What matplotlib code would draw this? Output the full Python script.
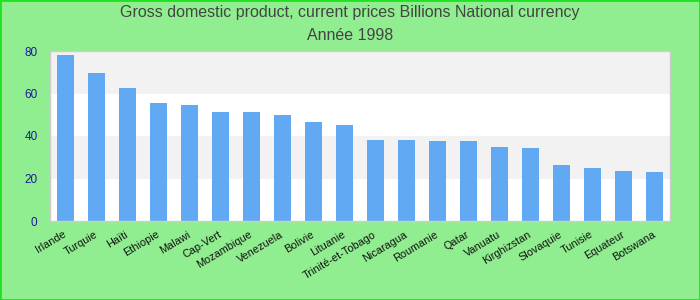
import matplotlib
matplotlib.use('Agg')
import matplotlib.pyplot as plt
from matplotlib.patches import Rectangle
from matplotlib.transforms import ScaledTranslation

plt.rcParams['font.family'] = ['Liberation Sans', 'DejaVu Sans']

countries = ['Irlande', 'Turquie', 'Haïti', 'Ethiopie', 'Malawi', 'Cap-Vert',
             'Mozambique', 'Venezuela', 'Bolivie', 'Lituanie',
             'Trinité-et-Tobago', 'Nicaragua', 'Roumanie', 'Qatar',
             'Vanuatu', 'Kirghizstan', 'Slovaquie', 'Tunisie', 'Equateur',
             'Botswana']
gdp = [78.3, 69.8, 62.8, 55.3, 54.4, 51.5, 51.1, 50.1, 46.8, 45.0,
       37.9, 37.9, 37.5, 37.5, 34.7, 34.2, 26.2, 24.8, 23.4, 23.0]
y_ticks = [0, 20, 40, 60, 80]
title_lines = ['Gross domestic product, current prices Billions National currency',
               'Année 1998']

bg = '#90EE90'
fig = plt.figure(figsize=(7, 3), dpi=100, facecolor=bg)
ax = fig.add_axes([50 / 700, 79 / 300, 620 / 700, 170 / 300])

# alternating bands behind the bars
for lo, hi in zip(y_ticks[:-1], y_ticks[1:]):
    ax.axhspan(lo, hi, color='white' if (lo // 20) % 2 == 0 else '#f2f2f2',
               zorder=0, lw=0)

x = range(len(countries))
ax.bar(x, gdp, width=0.55, color='#62a9f4', zorder=2)

ax.set_xlim(-0.5, len(countries) - 0.5)
ax.set_ylim(0, 80)
ax.set_yticks(y_ticks)
ax.set_yticklabels([str(v) for v in y_ticks], color='#1a1a9a', fontsize=8.5)
ax.set_xticks(list(x))
ax.set_xticklabels(countries, rotation=31, ha='right', va='center',
                   rotation_mode='anchor', fontsize=7.8, color='#111111')
shift = ScaledTranslation(-6 / 100, -3 / 100, fig.dpi_scale_trans)
for lab in ax.get_xticklabels():
    lab.set_transform(lab.get_transform() + shift)
ax.tick_params(axis='y', length=0, pad=9)
ax.tick_params(axis='x', length=0, pad=9)
for s in ax.spines.values():
    s.set_color('#cccccc')
    s.set_linewidth(1)

fig.text(0.5, 1 - 12 / 300, title_lines[0], ha='center', va='center',
         fontsize=11.5, color='#444444')
fig.text(0.5, 1 - 35 / 300, title_lines[1], ha='center', va='center',
         fontsize=11.5, color='#444444')

fig.patches.append(Rectangle((0, 0), 1, 1, transform=fig.transFigure,
                             fill=False, edgecolor='#22e022', lw=2))

fig.savefig('out.png', dpi=100, facecolor=bg)
